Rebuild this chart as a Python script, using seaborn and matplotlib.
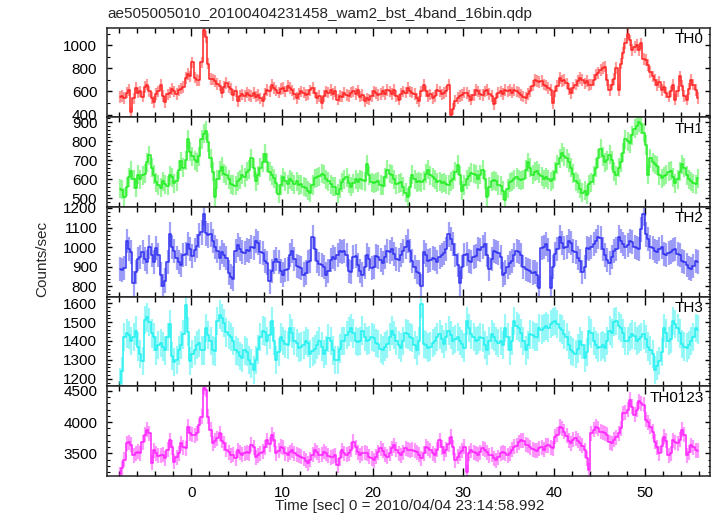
import numpy as np
import pandas as pd
import matplotlib
matplotlib.use("Agg")
import matplotlib.pyplot as plt
from matplotlib.ticker import MultipleLocator
import seaborn as sns

# ---------------- data (0.25 s bins, -8 s .. 56 s) ----------------
t_start = -8.0
bin_width = 0.25

th0 = [
    550, 560, 545, 590, 615, 420, 540, 630, 590, 600, 555, 640, 660, 600, 545, 510,
    580, 600, 660, 560, 510, 575, 590, 620, 600, 580, 610, 625, 640, 715, 750, 730,
    850, 720, 700, 695, 850, 1130, 1070, 840, 710, 705, 690, 665, 650, 590, 640, 675,
    640, 620, 570, 600, 515, 560, 575, 560, 590, 570, 560, 585, 555, 570, 540, 515,
    580, 615, 600, 660, 630, 610, 590, 620, 630, 600, 645, 630, 610, 580, 545, 580,
    600, 590, 570, 575, 610, 630, 590, 545, 560, 500, 560, 600, 590, 615, 580, 600,
    530, 560, 555, 590, 570, 560, 590, 600, 580, 610, 555, 570, 515, 540, 530, 560,
    600, 585, 570, 580, 600, 575, 615, 600, 580, 615, 560, 530, 580, 600, 590, 630,
    600, 590, 580, 540, 515, 600, 660, 600, 560, 575, 545, 560, 615, 600, 575, 585,
    600, 660, 400, 450, 520, 545, 560, 570, 590, 585, 560, 530, 570, 615, 600, 575,
    570, 600, 615, 580, 560, 490, 540, 590, 600, 580, 615, 600, 615, 590, 615, 600,
    590, 570, 555, 545, 580, 600, 650, 700, 690, 680, 690, 660, 650, 630, 615, 500,
    600, 645, 715, 690, 700, 670, 620, 585, 630, 660, 690, 715, 700, 670, 690, 655,
    660, 700, 745, 760, 785, 800, 815, 700, 615, 660, 710, 800, 615, 840, 930, 1015,
    1100, 1040, 960, 985, 1000, 960, 1015, 880, 870, 830, 770, 730, 700, 655, 680, 615,
    640, 590, 555, 600, 660, 530, 600, 730, 650, 560, 530, 620, 700, 660, 615, 545,
]

th1 = [
    550, 545, 505, 560, 610, 645, 600, 555, 625, 600, 620, 630, 690, 725, 660, 625,
    585, 570, 555, 590, 575, 565, 620, 610, 580, 590, 650, 695, 660, 700, 810, 745,
    720, 700, 690, 720, 810, 840, 855, 795, 710, 640, 505, 600, 645, 665, 630, 620,
    600, 575, 570, 565, 590, 600, 625, 610, 640, 650, 710, 660, 590, 620, 660, 690,
    735, 690, 640, 620, 605, 580, 525, 570, 610, 590, 575, 600, 590, 575, 590, 570,
    575, 560, 555, 540, 530, 570, 605, 610, 615, 630, 625, 600, 590, 575, 560, 560,
    525, 550, 585, 600, 610, 580, 560, 580, 600, 585, 600, 595, 590, 680, 620, 585,
    580, 585, 590, 570, 565, 610, 650, 630, 625, 600, 575, 580, 585, 560, 530, 505,
    560, 625, 600, 585, 590, 585, 595, 630, 650, 620, 610, 600, 585, 590, 580, 585,
    575, 570, 590, 600, 640, 675, 620, 540, 570, 600, 615, 635, 630, 625, 600, 625,
    650, 600, 505, 560, 590, 595, 590, 570, 565, 540, 490, 550, 585, 590, 600, 610,
    600, 595, 600, 650, 690, 660, 625, 640, 645, 630, 615, 600, 610, 600, 590, 600,
    640, 680, 710, 740, 720, 710, 690, 660, 630, 590, 580, 550, 530, 540, 520, 575,
    585, 620, 660, 710, 760, 720, 690, 700, 730, 700, 640, 620, 660, 690, 740, 810,
    800, 790, 830, 865, 880, 900, 890, 845, 780, 625, 710, 690, 680, 670, 620, 605,
    615, 625, 640, 645, 610, 580, 600, 640, 680, 660, 620, 600, 590, 580, 575, 605,
]

th2 = [
    890, 885, 895, 1030, 990, 975, 815, 875, 940, 950, 975, 940, 925, 1000, 960, 925,
    995, 960, 860, 800, 830, 925, 1065, 1000, 980, 945, 925, 910, 960, 965, 1015, 990,
    955, 985, 1005, 1060, 1075, 1170, 1070, 1060, 1065, 1030, 1000, 980, 945, 975, 960, 945,
    870, 850, 840, 980, 1010, 990, 975, 970, 985, 980, 1000, 995, 1030, 1020, 975, 970,
    930, 920, 825, 880, 925, 940, 925, 880, 860, 885, 890, 960, 980, 940, 905, 900,
    895, 860, 870, 925, 930, 1050, 990, 930, 915, 910, 900, 860, 880, 935, 950, 940,
    960, 980, 975, 980, 960, 880, 875, 950, 955, 910, 880, 860, 900, 960, 940, 895,
    900, 955, 950, 935, 920, 950, 980, 975, 990, 965, 940, 935, 960, 980, 1000, 1030,
    980, 930, 900, 875, 870, 800, 975, 960, 930, 935, 945, 940, 925, 950, 960, 970,
    990, 1065, 1040, 1015, 960, 910, 815, 900, 960, 965, 930, 925, 950, 955, 990, 985,
    1000, 1015, 960, 890, 940, 980, 975, 970, 950, 860, 870, 900, 920, 930, 960, 980,
    975, 960, 900, 890, 885, 880, 870, 875, 860, 790, 995, 1000, 1015, 985, 790, 900,
    965, 990, 1050, 1020, 995, 1000, 1030, 1020, 980, 975, 945, 930, 875, 900, 995, 990,
    1000, 1015, 1030, 1050, 1045, 990, 960, 935, 920, 950, 980, 990, 1050, 1030, 1015, 1000,
    1010, 1030, 1025, 1000, 995, 990, 1090, 1170, 1065, 1040, 1000, 995, 980, 975, 990, 1000,
    965, 960, 970, 975, 985, 990, 965, 960, 930, 925, 910, 895, 890, 905, 930, 925,
]

th3 = [
    1180, 1240, 1420, 1440, 1430, 1400, 1420, 1455, 1370, 1330, 1295, 1510, 1525, 1500, 1440, 1420,
    1350, 1380, 1390, 1370, 1350, 1420, 1490, 1320, 1290, 1300, 1350, 1380, 1435, 1590, 1450, 1295,
    1330, 1350, 1380, 1390, 1350, 1350, 1470, 1430, 1400, 1350, 1345, 1505, 1540, 1520, 1495, 1445,
    1430, 1420, 1400, 1350, 1340, 1320, 1310, 1350, 1340, 1300, 1280, 1245, 1300, 1355, 1420, 1455,
    1450, 1400, 1430, 1505, 1400, 1300, 1340, 1420, 1400, 1385, 1380, 1470, 1440, 1400, 1390, 1365,
    1370, 1380, 1400, 1390, 1330, 1345, 1355, 1380, 1400, 1370, 1330, 1350, 1415, 1400, 1350, 1300,
    1300, 1360, 1400, 1400, 1430, 1450, 1470, 1440, 1400, 1395, 1400, 1455, 1420, 1400, 1405, 1420,
    1415, 1390, 1385, 1360, 1350, 1370, 1385, 1420, 1455, 1430, 1400, 1380, 1365, 1400, 1440, 1435,
    1420, 1415, 1380, 1350, 1400, 1595, 1385, 1380, 1365, 1370, 1390, 1400, 1420, 1435, 1410, 1385,
    1420, 1455, 1430, 1400, 1410, 1420, 1400, 1385, 1365, 1505, 1470, 1435, 1420, 1400, 1405, 1420,
    1415, 1380, 1350, 1400, 1435, 1420, 1400, 1390, 1400, 1380, 1470, 1420, 1350, 1400, 1505, 1480,
    1470, 1440, 1400, 1350, 1380, 1435, 1430, 1420, 1420, 1470, 1460, 1470, 1480, 1470, 1490, 1500,
    1505, 1490, 1470, 1460, 1435, 1420, 1380, 1350, 1340, 1330, 1360, 1400, 1380, 1310, 1340, 1455,
    1440, 1400, 1380, 1365, 1370, 1380, 1365, 1400, 1455, 1440, 1500, 1505, 1480, 1470, 1440, 1400,
    1400, 1420, 1435, 1425, 1400, 1410, 1420, 1435, 1410, 1370, 1350, 1330, 1245, 1270, 1295, 1340,
    1470, 1440, 1400, 1410, 1505, 1490, 1470, 1440, 1385, 1370, 1365, 1380, 1400, 1420, 1470, 1460,
]

th0123 = [
    3170, 3260, 3400, 3660, 3680, 3640, 3470, 3500, 3530, 3500, 3680, 3800, 3880, 3820, 3350, 3550,
    3500, 3460, 3470, 3480, 3420, 3560, 3715, 3600, 3365, 3440, 3500, 3660, 3600, 3580, 3930, 3820,
    3800, 3790, 3820, 3950, 4090, 4550, 4520, 4090, 3880, 3660, 3700, 3740, 3820, 3700, 3660, 3560,
    3520, 3470, 3480, 3420, 3550, 3510, 3480, 3500, 3520, 3500, 3640, 3600, 3440, 3470, 3500, 3530,
    3600, 3715, 3650, 3800, 3720, 3500, 3540, 3610, 3590, 3500, 3480, 3520, 3555, 3500, 3480, 3460,
    3445, 3420, 3380, 3340, 3400, 3480, 3555, 3520, 3470, 3480, 3525, 3500, 3460, 3440, 3445, 3470,
    3310, 3420, 3555, 3500, 3480, 3500, 3560, 3690, 3600, 3520, 3470, 3500, 3510, 3500, 3450, 3420,
    3390, 3450, 3520, 3580, 3540, 3480, 3445, 3500, 3580, 3635, 3560, 3500, 3470, 3520, 3580, 3560,
    3555, 3560, 3540, 3520, 3480, 3420, 3500, 3610, 3580, 3555, 3500, 3470, 3560, 3715, 3600, 3500,
    3560, 3650, 3770, 3600, 3390, 3450, 3500, 3540, 3610, 3200, 3500, 3555, 3520, 3500, 3480, 3520,
    3580, 3560, 3520, 3470, 3480, 3420, 3390, 3440, 3500, 3520, 3500, 3470, 3500, 3560, 3610, 3620,
    3680, 3715, 3700, 3640, 3635, 3600, 3570, 3555, 3540, 3580, 3600, 3560, 3620, 3635, 3600, 3580,
    3770, 3800, 3930, 3900, 3850, 3780, 3700, 3660, 3720, 3740, 3700, 3660, 3620, 3555, 3420, 3230,
    3820, 3880, 3930, 3900, 3850, 3840, 3820, 3800, 3680, 3660, 3720, 3760, 3820, 3900, 4145, 4150,
    4200, 4360, 4250, 4120, 4200, 4335, 4300, 4280, 4040, 4000, 3930, 3850, 3690, 3600, 3500, 3620,
    3770, 3700, 3470, 3500, 3715, 3680, 3660, 3720, 3880, 3800, 3470, 3520, 3635, 3600, 3555, 3540,
]

panel_names = ["TH0", "TH1", "TH2", "TH3", "TH0123"]
panel_values = [th0, th1, th2, th3, th0123]
panel_errors = [50, 50, 62, 75, 120]          # typical 1-sigma half length of bars
panel_ylims = [(378, 1152), (455, 926), (748, 1205), (1160, 1635), (3140, 4575)]
panel_major = [200, 100, 100, 100, 500]
panel_minor = [100, 20, 20, 20, 100]
panel_colors = ["#ff2222", "#22ee22", "#3030f0", "#22f0f0", "#ff22ff"]

title = "ae505005010_20100404231458_wam2_bst_4band_16bin.qdp"
ylabel = "Counts/sec"
xlabel = "Time [sec] 0 = 2010/04/04 23:14:58.992"
xlim = (-9.3, 57.2)

# ---------------- plotting ----------------
sns.set_theme(style="ticks")
plt.rcParams["font.family"] = ["Liberation Sans", "DejaVu Sans"]

W, H = 717, 516
fig, axes = plt.subplots(5, 1, figsize=(W / 100, H / 100), dpi=100, sharex=True,
                         gridspec_kw=dict(hspace=0))
fig.subplots_adjust(left=107 / W, right=710 / W, top=1 - 27.5 / H, bottom=1 - 476 / H)

n = len(th0)
times = t_start + bin_width * (np.arange(n) + 0.5)

for ax, name, vals, err, ylim, maj, mnr, col in zip(
        axes, panel_names, panel_values, panel_errors, panel_ylims,
        panel_major, panel_minor, panel_colors):
    df = pd.DataFrame({"time": times, "rate": vals})
    ax.errorbar(df["time"], df["rate"], yerr=err, fmt="none", ecolor=col,
                alpha=0.45, elinewidth=1.6, zorder=1)
    sns.lineplot(data=df, x="time", y="rate", ax=ax, color=col, linewidth=1.1,
                 drawstyle="steps-mid", estimator=None, errorbar=None, zorder=2)
    ax.set_ylim(*ylim)
    ax.set_xlim(*xlim)
    ax.yaxis.set_major_locator(MultipleLocator(maj))
    ax.yaxis.set_minor_locator(MultipleLocator(mnr))
    ax.xaxis.set_major_locator(MultipleLocator(10))
    ax.xaxis.set_minor_locator(MultipleLocator(2))
    ax.tick_params(axis="both", which="both", direction="in", top=True, right=True,
                   colors="black", labelsize=11)
    ax.tick_params(axis="x", which="major", length=6, width=1.0, pad=7)
    ax.tick_params(axis="x", which="minor", length=3.5, width=1.0)
    ax.tick_params(axis="y", which="major", length=3.5, width=1.0, pad=7)
    ax.tick_params(axis="y", which="minor", length=1.8, width=0.8)
    ax.set_ylabel("")
    ax.set_xlabel("")
    for sp in ax.spines.values():
        sp.set_color("#222222")
        sp.set_linewidth(1.1)
    ax.text(0.99, 0.95, name, transform=ax.transAxes, ha="right", va="top",
            fontsize=11, color="black")

fig.text(107 / W, 1 - 14 / H, title, ha="left", va="center", fontsize=11)
fig.text(42 / W, 1 - 259 / H, ylabel, ha="center", va="center", rotation=90,
         fontsize=11)
fig.text(410 / W, 1 - 506 / H, xlabel, ha="center", va="center", fontsize=11)

fig.savefig("out.png", dpi=100, facecolor="white")
